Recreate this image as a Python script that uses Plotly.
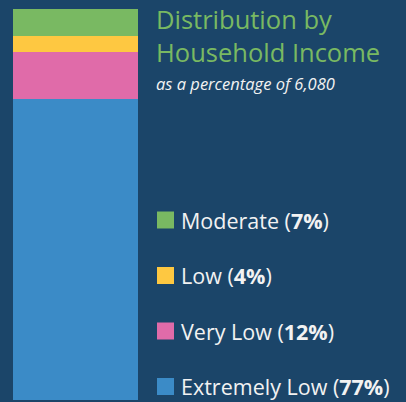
import plotly.graph_objects as go

categories = ["Extremely Low", "Very Low", "Low", "Moderate"]
percentages = [77, 12, 4, 7]
colors = ["#3b8bc7", "#e06ba9", "#fec841", "#79b962"]
total_households = "6,080"
title_lines = ["Distribution by", "Household Income"]

BG = "#1b4569"
FONT = "Open Sans"

fig = go.Figure()

# stacked bar
for cat, val, col in zip(categories, percentages, colors):
    fig.add_trace(go.Bar(
        x=["All"], y=[val], name=cat, marker=dict(color=col, line=dict(width=0)),
        width=1, xaxis="x", yaxis="y", showlegend=False, hoverinfo="name+y",
    ))

# legend (top to bottom: Moderate, Low, Very Low, Extremely Low)
legend_order = list(range(len(categories)))[::-1]
leg_idx = list(range(len(categories)))
leg_cats = [categories[i] for i in legend_order]
leg_vals = [percentages[i] for i in legend_order]
leg_cols = [colors[i] for i in legend_order]

fig.add_trace(go.Scatter(
    x=[165.5] * len(leg_idx), y=leg_idx, mode="markers",
    marker=dict(symbol="square", size=17, color=leg_cols, line=dict(width=0)),
    xaxis="x2", yaxis="y2", showlegend=False, hoverinfo="skip",
))

annotations = []
for i, (c, v) in enumerate(zip(leg_cats, leg_vals)):
    annotations.append(dict(
        x=180, y=i, xref="x2", yref="y2", xanchor="left", yanchor="middle",
        text=f"{c} (<b>{v}%</b>)", showarrow=False, borderpad=0,
        font=dict(family=FONT, size=21.5, color="#f2f2f2"),
    ))

annotations.append(dict(
    x=155 / 406, y=1 - 1.5 / 402, xref="paper", yref="paper",
    xanchor="left", yanchor="top", borderpad=0,
    text="<br>".join(title_lines), showarrow=False, align="left",
    font=dict(family=FONT, size=25.5, color="#79b962"),
))
annotations.append(dict(
    x=155 / 406, y=1 - 70.5 / 402, xref="paper", yref="paper", xanchor="left", yanchor="top",
    text=f"<i>as a percentage of {total_households}</i>", showarrow=False, borderpad=0,
    font=dict(family=FONT, size=16.5, color="#f2f2f2"),
))

# legend rows: first row centre at 220 px, spacing 55.5 px
row0, step = 220.0, 55.5
y2_top = -row0 / step
y2_bottom = (402 - row0) / step

fig.update_layout(
    width=406, height=402,
    margin=dict(l=0, r=0, t=0, b=0),
    paper_bgcolor=BG, plot_bgcolor="rgba(0,0,0,0)",
    barmode="stack",
    xaxis=dict(domain=[13 / 406, 138 / 406], range=[-0.5, 0.5], visible=False, fixedrange=True),
    yaxis=dict(domain=[2 / 402, 393 / 402], range=[0, 100], visible=False, fixedrange=True),
    xaxis2=dict(domain=[0, 1], range=[0, 406], visible=False, anchor="y2"),
    yaxis2=dict(domain=[0, 1], range=[y2_bottom, y2_top], visible=False, anchor="x2"),
    annotations=annotations,
    showlegend=False,
)

fig.write_html(
    "out.html",
    config={"displayModeBar": False},
    post_script="document.body.style.margin='0';document.body.style.background='" + BG + "';",
)
